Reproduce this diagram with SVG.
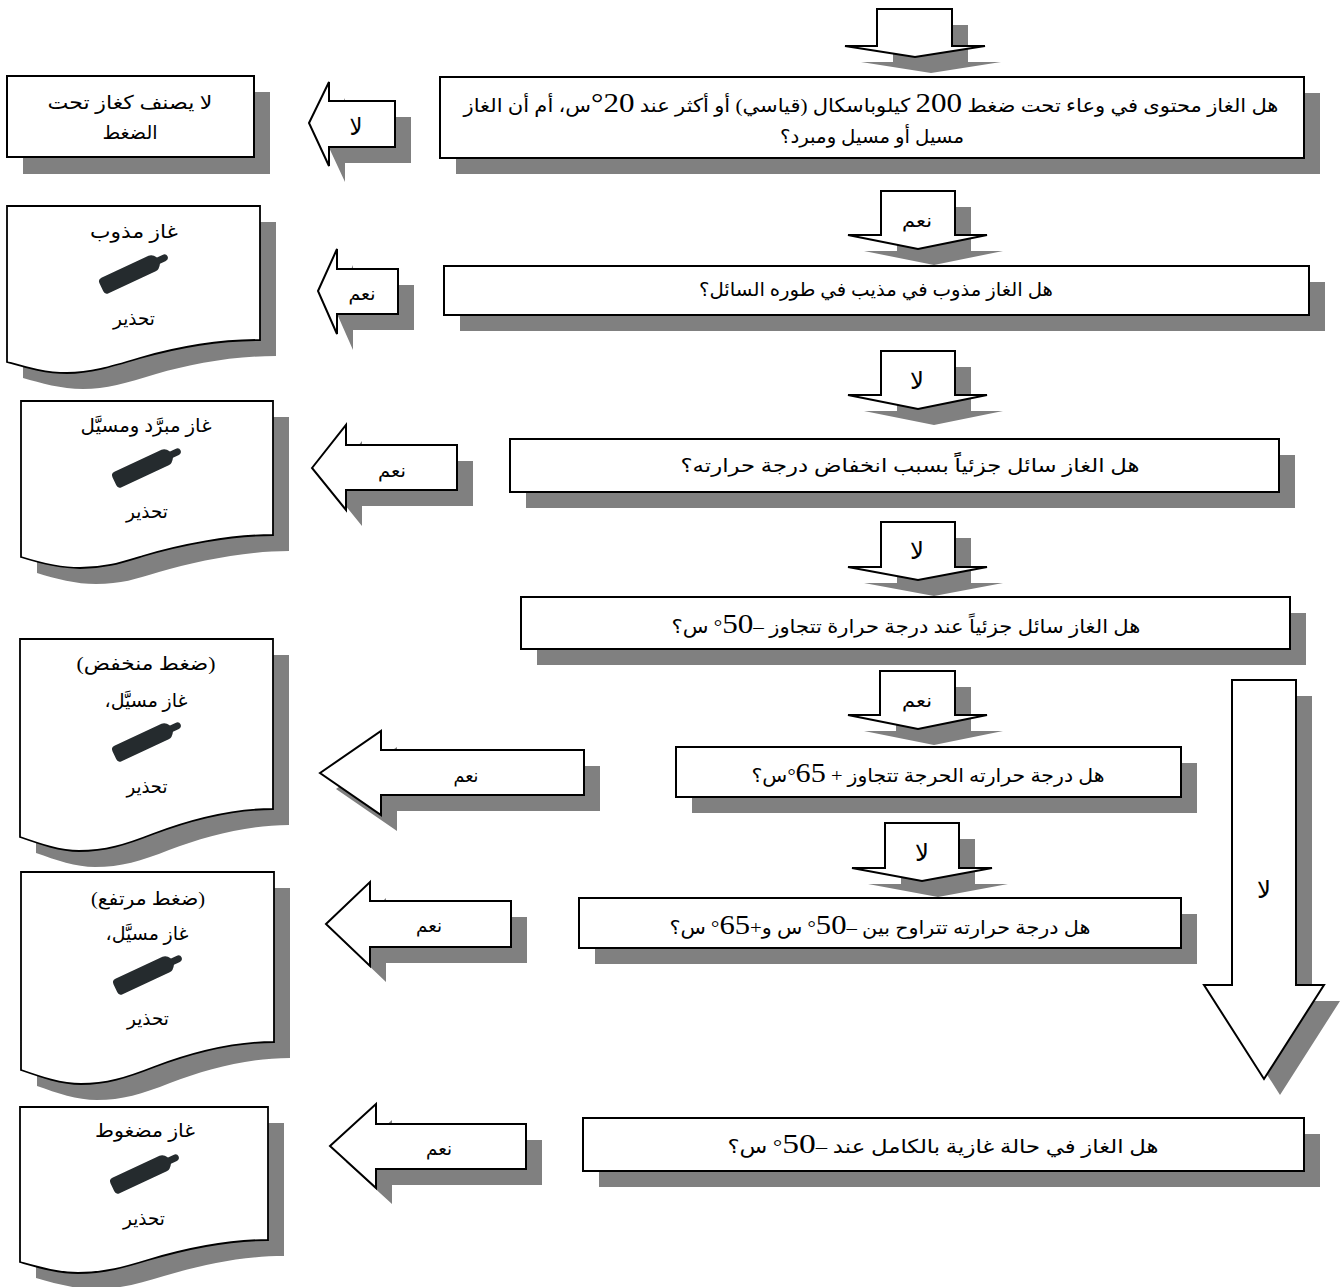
<svg xmlns="http://www.w3.org/2000/svg" width="1343" height="1287" viewBox="0 0 1343 1287">
<style>
.sh{fill:#808080;stroke:none}
.box{fill:#fff;stroke:#000;stroke-width:2}
.doc{fill:#fff;stroke:#000;stroke-width:1.8;stroke-linejoin:miter}
.arr{fill:#fff;stroke:#000;stroke-width:2;stroke-linejoin:miter}
text{font-family:"Liberation Serif","DejaVu Sans",serif;font-size:19px;fill:#000;direction:rtl;text-anchor:middle}
.n{font-family:"Liberation Serif",serif;font-size:28px}
.big{font-size:24px}
</style>
<defs>
<g id="cyl"><path fill="#252b2e" transform="rotate(-25)" d="M-32,-8.5H20Q24,-8.5 27,-3.5H33Q37,-3.5 37,0Q37,3.5 33,3.5H27Q24,8.5 20,8.5H-32Q-36,8.5 -36,4.5V-4.5Q-36,-8.5 -32,-8.5Z"/></g>
<polygon id="a1" points="309,123 329,82 329,101 395,101 395,147 329,147 329,166"/>
<polygon id="a2" points="318,291 337,249 337,269 398,269 398,314 337,314 337,334"/>
<polygon id="a3" points="312,468 346,425 346,445 457,445 457,490 346,490 346,510"/>
<polygon id="a4" points="320,773 381,731 381,750 584,750 584,795 381,795 381,815"/>
<polygon id="a5" points="326,924 370,882 370,901 511,901 511,947 370,947 370,966"/>
<polygon id="a6" points="330,1146 376,1104 376,1124 526,1124 526,1169 376,1169 376,1188"/>
<polygon id="d1" points="877,9 952,9 952,46 985,46 915,57 845,46 877,46"/>
<polygon id="d2" points="881,191 955,191 955,235 987,235 918,249 848,235 881,235"/>
<polygon id="d3" points="881,351 955,351 955,395 987,395 918,409 848,395 881,395"/>
<polygon id="d4" points="881,522 955,522 955,567 987,567 918,580 848,567 881,567"/>
<polygon id="d5" points="880,671 955,671 955,715 987,715 918,729 848,715 880,715"/>
<polygon id="d6" points="885,823 959,823 959,868 992,868 922,881 852,868 885,868"/>
<polygon id="d7" points="1232,680 1296,680 1296,985 1324,985 1264,1079 1204,985 1232,985"/>
<path id="p1" d="M7,206H260V340C216,340 175,348 140,358C110,367 90,373 67,373C45,373 25,367 7,362Z"/>
<path id="p2" d="M21,401H273V535C230,535 180,545 143,556C120,563 105,568 80,568C60,568 40,563 21,557Z"/>
<path id="p3" d="M20,639H273V809C232,809 190,820 153,834C125,845 105,851 79,851C60,851 40,844 20,837Z"/>
<path id="p4" d="M21,872H274V1042C233,1042 191,1053 154,1067C126,1078 106,1084 81,1084C61,1084 41,1077 21,1070Z"/>
<path id="p5" d="M20,1107H268V1240C225,1240 185,1249 148,1260C125,1267 105,1273 78,1273C58,1273 38,1267 20,1262Z"/>
</defs>

<g id="connectors">
<g id="arrow-start"><use href="#d1" class="sh" x="16" y="16"/><use href="#d1" class="arr"/></g>
<g id="arrow-q1-yes"><use href="#d2" class="sh" x="16" y="16"/><use href="#d2" class="arr"/><text x="917" y="227" textLength="30" lengthAdjust="spacingAndGlyphs">نعم</text></g>
<g id="arrow-q2-no"><use href="#d3" class="sh" x="16" y="16"/><use href="#d3" class="arr"/><text x="917" y="389" class="big" textLength="14" lengthAdjust="spacingAndGlyphs">لا</text></g>
<g id="arrow-q3-no"><use href="#d4" class="sh" x="16" y="16"/><use href="#d4" class="arr"/><text x="917" y="559" class="big" textLength="14" lengthAdjust="spacingAndGlyphs">لا</text></g>
<g id="arrow-q4-yes"><use href="#d5" class="sh" x="16" y="16"/><use href="#d5" class="arr"/><text x="917" y="707" textLength="30" lengthAdjust="spacingAndGlyphs">نعم</text></g>
<g id="arrow-q5-no"><use href="#d6" class="sh" x="16" y="16"/><use href="#d6" class="arr"/><text x="922" y="861" class="big" textLength="14" lengthAdjust="spacingAndGlyphs">لا</text></g>
<g id="arrow-q4-no"><use href="#d7" class="sh" x="16" y="16"/><use href="#d7" class="arr"/><text x="1264" y="898" class="big" textLength="14" lengthAdjust="spacingAndGlyphs">لا</text></g>
<g id="arrow-left-1"><use href="#a1" class="sh" x="16" y="16"/><use href="#a1" class="arr"/><text x="356" y="135" class="big" textLength="13" lengthAdjust="spacingAndGlyphs">لا</text></g>
<g id="arrow-left-2"><use href="#a2" class="sh" x="16" y="16"/><use href="#a2" class="arr"/><text x="362" y="300" textLength="27" lengthAdjust="spacingAndGlyphs">نعم</text></g>
<g id="arrow-left-3"><use href="#a3" class="sh" x="16" y="16"/><use href="#a3" class="arr"/><text x="392" y="477" textLength="28" lengthAdjust="spacingAndGlyphs">نعم</text></g>
<g id="arrow-left-4"><use href="#a4" class="sh" x="16" y="16"/><use href="#a4" class="arr"/><text x="466" y="782" textLength="25" lengthAdjust="spacingAndGlyphs">نعم</text></g>
<g id="arrow-left-5"><use href="#a5" class="sh" x="16" y="16"/><use href="#a5" class="arr"/><text x="429" y="932" textLength="26" lengthAdjust="spacingAndGlyphs">نعم</text></g>
<g id="arrow-left-6"><use href="#a6" class="sh" x="16" y="16"/><use href="#a6" class="arr"/><text x="439" y="1155" textLength="26" lengthAdjust="spacingAndGlyphs">نعم</text></g>
</g>

<g id="q1"><rect class="sh" x="456" y="93" width="864" height="81"/><rect class="box" x="440" y="77" width="864" height="81"/>
<text x="871" y="112" textLength="815" lengthAdjust="spacingAndGlyphs">هل الغاز محتوى في وعاء تحت ضغط <tspan class="n">200</tspan> كيلوباسكال (قياسي) أو أكثر عند <tspan class="n">20°</tspan>س، أم أن الغاز</text>
<text x="872" y="143" textLength="184" lengthAdjust="spacingAndGlyphs">مسيل أو مسيل ومبرد؟</text></g>
<g id="q2"><rect class="sh" x="460" y="282" width="865" height="49"/><rect class="box" x="444" y="266" width="865" height="49"/>
<text x="876" y="296" textLength="354" lengthAdjust="spacingAndGlyphs">هل الغاز مذوب في مذيب في طوره السائل؟</text></g>
<g id="q3"><rect class="sh" x="526" y="455" width="769" height="53"/><rect class="box" x="510" y="439" width="769" height="53"/>
<text x="910" y="472" textLength="459" lengthAdjust="spacingAndGlyphs">هل الغاز سائل جزئياًً بسبب انخفاض درجة حرارته؟</text></g>
<g id="q4"><rect class="sh" x="537" y="613" width="769" height="52"/><rect class="box" x="521" y="597" width="769" height="52"/>
<text x="906" y="633" textLength="469" lengthAdjust="spacingAndGlyphs">هل الغاز سائل جزئياً عند درجة حرارة تتجاوز –<tspan class="n">50</tspan>° س؟</text></g>
<g id="q5"><rect class="sh" x="692" y="763" width="505" height="50"/><rect class="box" x="676" y="747" width="505" height="50"/>
<text x="928" y="782" textLength="353" lengthAdjust="spacingAndGlyphs">هل درجة حرارته الحرجة تتجاوز + <tspan class="n">65</tspan>°س؟</text></g>
<g id="q6"><rect class="sh" x="595" y="914" width="602" height="50"/><rect class="box" x="579" y="898" width="602" height="50"/>
<text x="880" y="934" textLength="421" lengthAdjust="spacingAndGlyphs">هل درجة حرارته تتراوح بين –<tspan class="n">50</tspan>° س و+<tspan class="n">65</tspan>° س؟</text></g>
<g id="q7"><rect class="sh" x="599" y="1134" width="721" height="53"/><rect class="box" x="583" y="1118" width="721" height="53"/>
<text x="943" y="1153" textLength="431" lengthAdjust="spacingAndGlyphs">هل الغاز في حالة غازية بالكامل عند –<tspan class="n">50</tspan>° س؟</text></g>

<g id="r1"><rect class="sh" x="23" y="92" width="247" height="82"/><rect class="box" x="7" y="76" width="247" height="81"/>
<text x="130" y="109" textLength="165" lengthAdjust="spacingAndGlyphs">لا يصنف كغاز تحت</text>
<text x="130" y="139" textLength="55" lengthAdjust="spacingAndGlyphs">الضغط</text></g>
<g id="r2"><use href="#p1" class="sh" x="16" y="16"/><use href="#p1" class="doc"/>
<text x="134" y="238" textLength="88" lengthAdjust="spacingAndGlyphs">غاز مذوب</text>
<use href="#cyl" x="134" y="272"/>
<text x="134" y="325" textLength="42" lengthAdjust="spacingAndGlyphs">تحذير</text></g>
<g id="r3"><use href="#p2" class="sh" x="16" y="16"/><use href="#p2" class="doc"/>
<text x="146" y="432" textLength="131" lengthAdjust="spacingAndGlyphs">غاز مبرَّد ومسيَّل</text>
<use href="#cyl" x="147" y="466"/>
<text x="147" y="518" textLength="42" lengthAdjust="spacingAndGlyphs">تحذير</text></g>
<g id="r4"><use href="#p3" class="sh" x="16" y="16"/><use href="#p3" class="doc"/>
<text x="146" y="670" textLength="139" lengthAdjust="spacingAndGlyphs">(ضغط منخفض)</text>
<text x="146" y="707" textLength="83" lengthAdjust="spacingAndGlyphs">غاز مسيَّل،</text>
<use href="#cyl" x="147" y="740"/>
<text x="147" y="793" textLength="41" lengthAdjust="spacingAndGlyphs">تحذير</text></g>
<g id="r5"><use href="#p4" class="sh" x="16" y="16"/><use href="#p4" class="doc"/>
<text x="148" y="905" textLength="114" lengthAdjust="spacingAndGlyphs">(ضغط مرتفع)</text>
<text x="147" y="940" textLength="83" lengthAdjust="spacingAndGlyphs">غاز مسيَّل،</text>
<use href="#cyl" x="148" y="973"/>
<text x="148" y="1025" textLength="42" lengthAdjust="spacingAndGlyphs">تحذير</text></g>
<g id="r6"><use href="#p5" class="sh" x="16" y="16"/><use href="#p5" class="doc"/>
<text x="145" y="1137" textLength="100" lengthAdjust="spacingAndGlyphs">غاز مضغوط</text>
<use href="#cyl" x="145" y="1172"/>
<text x="144" y="1225" textLength="42" lengthAdjust="spacingAndGlyphs">تحذير</text></g>
</svg>
